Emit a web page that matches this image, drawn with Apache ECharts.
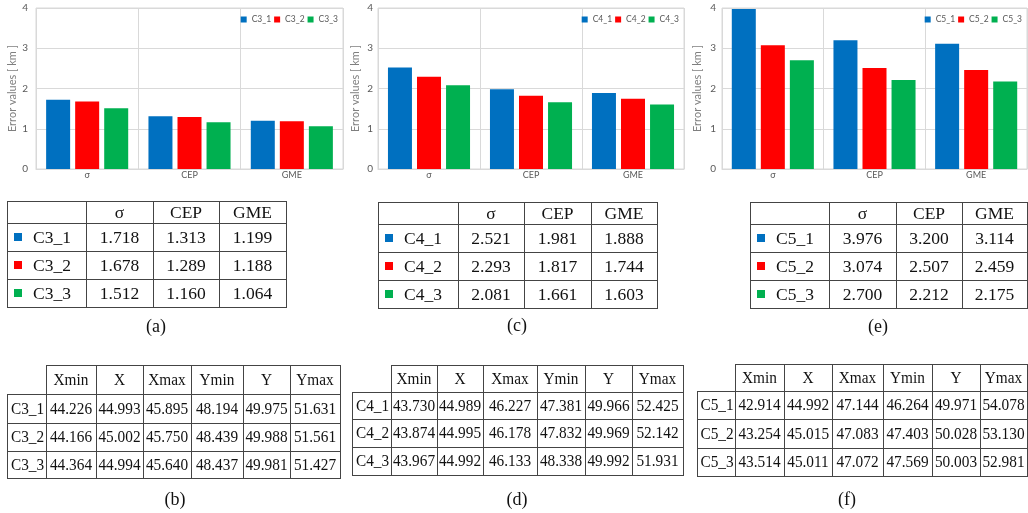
<!DOCTYPE html>
<html><head><meta charset="utf-8">
<script src="https://cdn.jsdelivr.net/npm/echarts@6/dist/echarts.min.js"></script>
<style>html,body{margin:0;padding:0;background:#fff}#c{width:1028px;height:513px}</style>
</head><body><div id="c"></div>
<script>
// ---------- data ----------
const metrics = ['σ', 'CEP', 'GME'];
const names3 = ['C3_1', 'C3_2', 'C3_3'];
const names4 = ['C4_1', 'C4_2', 'C4_3'];
const names5 = ['C5_1', 'C5_2', 'C5_3'];
const values3 = [[1.718, 1.313, 1.199], [1.678, 1.289, 1.188], [1.512, 1.160, 1.064]];
const values4 = [[2.521, 1.981, 1.888], [2.293, 1.817, 1.744], [2.081, 1.661, 1.603]];
const values5 = [[3.976, 3.200, 3.114], [3.074, 2.507, 2.459], [2.700, 2.212, 2.175]];
const yTicks = [0, 1, 2, 3, 4];
const coordHeaders = ['Xmin', 'X', 'Xmax', 'Ymin', 'Y', 'Ymax'];
const coords3 = [[44.226, 44.993, 45.895, 48.194, 49.975, 51.631],
                 [44.166, 45.002, 45.750, 48.439, 49.988, 51.561],
                 [44.364, 44.994, 45.640, 48.437, 49.981, 51.427]];
const coords4 = [[43.730, 44.989, 46.227, 47.381, 49.966, 52.425],
                 [43.874, 44.995, 46.178, 47.832, 49.969, 52.142],
                 [43.967, 44.992, 46.133, 48.338, 49.992, 51.931]];
const coords5 = [[42.914, 44.992, 47.144, 46.264, 49.971, 54.078],
                 [43.254, 45.015, 47.083, 47.403, 50.028, 53.130],
                 [43.514, 45.011, 47.072, 47.569, 50.003, 52.981]];
const captions = ['(a)', '(b)', '(c)', '(d)', '(e)', '(f)'];

// ---------- styles / layout ----------
const colors = ['#0070C0', '#FF0000', '#00B050'];
const gridLine = '#d9d9d9';
const sans = 'Lato';
const serif = '"Liberation Serif"';
const charts = [
  { names: names3, values: values3, grid: { left: 36, top: 8, width: 307, height: 161 }, labelMargin: 8, nameGap: 16, legendRight: 690 },
  { names: names4, values: values4, grid: { left: 378, top: 8, width: 306, height: 161 }, labelMargin: 5, nameGap: 17, legendRight: 349 },
  { names: names5, values: values5, grid: { left: 722, top: 8, width: 305, height: 161 }, labelMargin: 6, nameGap: 19, legendRight: 6 }
];

const grids = [], xAxes = [], yAxes = [], series = [], legends = [];
charts.forEach((c, i) => {
  grids.push(Object.assign({ show: true, borderColor: gridLine, borderWidth: 1 }, c.grid));
  xAxes.push({
    type: 'category', gridIndex: i, data: metrics,
    axisTick: { show: false },
    axisLine: { lineStyle: { color: gridLine } },
    splitLine: { show: true, lineStyle: { color: gridLine } },
    axisLabel: { fontSize: 9, color: '#595959', margin: 2, fontFamily: sans }
  });
  yAxes.push({
    type: 'value', gridIndex: i, min: yTicks[0], max: yTicks[yTicks.length - 1], interval: 1,
    name: 'Error values [ km ]', nameLocation: 'middle', nameGap: c.nameGap,
    nameTextStyle: { fontSize: 11, color: '#7f7f7f', fontFamily: sans },
    axisLine: { show: false }, axisTick: { show: false },
    axisLabel: { fontSize: 10, color: '#595959', margin: c.labelMargin, fontFamily: sans },
    splitLine: { lineStyle: { color: gridLine } }
  });
  c.names.forEach((n, r) => {
    series.push({
      type: 'bar', name: n, xAxisIndex: i, yAxisIndex: i, data: c.values[r],
      barWidth: 24, barGap: '21%',
      itemStyle: { color: colors[r] }
    });
  });
  legends.push({
    data: c.names, right: c.legendRight, top: 15, icon: 'rect', orient: 'horizontal', width: 140,
    itemWidth: 6, itemHeight: 6, itemGap: 3, padding: 0,
    textStyle: { fontSize: 8.5, color: '#595959', fontFamily: sans }
  });
});

// ---------- tables (graphic) ----------
const lineColor = '#444';
const g = [];
function hline(x1, x2, y) { g.push({ type: 'line', silent: true, shape: { x1: x1, y1: y + 0.5, x2: x2 + 1, y2: y + 0.5 }, style: { stroke: lineColor, lineWidth: 1 } }); }
function vline(x, y1, y2) { g.push({ type: 'line', silent: true, shape: { x1: x + 0.5, y1: y1, x2: x + 0.5, y2: y2 + 1 }, style: { stroke: lineColor, lineWidth: 1 } }); }
function txt(t, x, y, size, align, sx) {
  g.push({ type: 'text', silent: true, x: x, y: y, scaleX: sx || 1,
    style: { text: t, x: 0, y: 0, font: size + 'px ' + serif, fill: '#111',
      textAlign: align || 'center', align: align || 'center', textVerticalAlign: 'middle', verticalAlign: 'middle' } });
}
function topTable(cols, rows, names, values) {
  rows.forEach(y => hline(cols[0], cols[cols.length - 1], y));
  cols.forEach(x => vline(x, rows[0], rows[rows.length - 1]));
  const mid = k => (rows[k] + rows[k + 1]) / 2 + 1;
  metrics.forEach((m, j) => txt(m, (cols[j + 1] + cols[j + 2]) / 2, mid(0), 17.5));
  names.forEach((n, r) => {
    const y = mid(r + 1);
    g.push({ type: 'rect', silent: true, shape: { x: cols[0] + 7, y: Math.round(y - 5), width: 8, height: 8 }, style: { fill: colors[r] } });
    txt(n, cols[0] + 26, y, 17.5, 'left');
    values[r].forEach((v, j) => txt(v.toFixed(3), (cols[j + 1] + cols[j + 2]) / 2, y, 17.5));
  });
}
function bottomTable(cols, rows, names, data) {
  const last = cols.length - 1;
  hline(cols[1], cols[last], rows[0]);
  for (let k = 1; k < rows.length; k++) hline(cols[0], cols[last], rows[k]);
  vline(cols[0], rows[1], rows[rows.length - 1]);
  for (let k = 1; k < cols.length; k++) vline(cols[k], rows[0], rows[rows.length - 1]);
  const mid = k => (rows[k] + rows[k + 1]) / 2 + 1;
  coordHeaders.forEach((h, j) => txt(h, (cols[j + 1] + cols[j + 2]) / 2, mid(0), 17, 'center', 0.9));
  names.forEach((n, r) => {
    const y = mid(r + 1);
    txt(n, (cols[0] + cols[1]) / 2 + 1, y, 17, 'center', 0.9);
    data[r].forEach((v, j) => txt(v.toFixed(3), (cols[j + 1] + cols[j + 2]) / 2, y, 17, 'center', 0.9));
  });
}
topTable([7, 86, 153, 219, 286], [201, 223, 251, 279, 307], names3, values3);
topTable([378, 458, 524, 591, 657], [202, 224, 252, 280, 308], names4, values4);
topTable([750, 829, 896, 962, 1027], [202, 224, 252, 280, 308], names5, values5);
bottomTable([7, 46, 96, 143, 191, 243, 290, 340], [365, 394, 423, 451, 478], names3, coords3);
bottomTable([352, 391, 437, 483, 537, 585, 632, 683], [365, 392, 419, 447, 475], names4, coords4);
bottomTable([697, 735, 784, 832, 883, 932, 980, 1027], [364, 391, 419, 448, 476], names5, coords5);
const capPos = [[156, 327], [175, 500], [517, 326], [517, 500], [878, 327], [847, 500]];
captions.forEach((c, i) => txt(c, capPos[i][0], capPos[i][1], 18));

const chart = echarts.init(document.getElementById('c'), null, { renderer: 'canvas' });
chart.setOption({
  backgroundColor: '#fff',
  animation: false,
  grid: grids, xAxis: xAxes, yAxis: yAxes, series: series, legend: legends,
  graphic: { elements: g }
});
</script></body></html>
